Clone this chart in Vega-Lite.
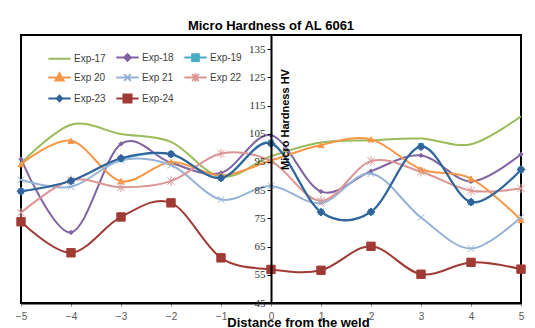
{
  "$schema": "https://vega.github.io/schema/vega-lite/v6.json",
  "width": 500,
  "height": 268,
  "autosize": {"type": "none"},
  "padding": {"left": 21, "top": 35, "right": 14, "bottom": 25},
  "background": "white",
  "title": {"text": "Micro Hardness of AL 6061", "font": "Liberation Sans", "fontSize": 13, "fontWeight": "bold", "color": "black", "offset": 2, "anchor": "middle"},
  "config": {
    "view": {"stroke": "black", "strokeWidth": 2},
    "axis": {"grid": false},
    "axisY": {"labelOverlap": false, "labelFlush": false, "labelBound": false},
    "axisX": {"labelOverlap": false, "labelFlush": false},
    "legend": {"symbolSize": 500, "symbolStrokeWidth": 2, "labelFont": "Liberation Sans", "labelFontSize": 10, "labelColor": "#404040", "labelOffset": 2, "columnPadding": 6, "rowPadding": 0, "padding": 0}
  },
  "data": {"values": [
    {"series": "Exp-17", "x": -5, "hv": 94.5}, {"series": "Exp-17", "x": -4, "hv": 108.2}, {"series": "Exp-17", "x": -3, "hv": 104.9}, {"series": "Exp-17", "x": -2, "hv": 102.1}, {"series": "Exp-17", "x": -1, "hv": 89.7}, {"series": "Exp-17", "x": 0, "hv": 97}, {"series": "Exp-17", "x": 1, "hv": 101.9}, {"series": "Exp-17", "x": 2, "hv": 102.7}, {"series": "Exp-17", "x": 3, "hv": 103.3}, {"series": "Exp-17", "x": 4, "hv": 101.3}, {"series": "Exp-17", "x": 5, "hv": 111.2},
    {"series": "Exp-18", "x": -5, "hv": 96}, {"series": "Exp-18", "x": -4, "hv": 70}, {"series": "Exp-18", "x": -3, "hv": 101.4}, {"series": "Exp-18", "x": -2, "hv": 94.7}, {"series": "Exp-18", "x": -1, "hv": 91.1}, {"series": "Exp-18", "x": 0, "hv": 104.5}, {"series": "Exp-18", "x": 1, "hv": 84.5}, {"series": "Exp-18", "x": 2, "hv": 91.7}, {"series": "Exp-18", "x": 3, "hv": 97.3}, {"series": "Exp-18", "x": 4, "hv": 88.1}, {"series": "Exp-18", "x": 5, "hv": 97.7},
    {"series": "Exp-19", "x": -5, "hv": 84.6}, {"series": "Exp-19", "x": -4, "hv": 88.3}, {"series": "Exp-19", "x": -3, "hv": 96.1}, {"series": "Exp-19", "x": -2, "hv": 97.7}, {"series": "Exp-19", "x": -1, "hv": 89.4}, {"series": "Exp-19", "x": 0, "hv": 101.8}, {"series": "Exp-19", "x": 1, "hv": 77.3}, {"series": "Exp-19", "x": 2, "hv": 77.3}, {"series": "Exp-19", "x": 3, "hv": 100.6}, {"series": "Exp-19", "x": 4, "hv": 80.7}, {"series": "Exp-19", "x": 5, "hv": 92.3},
    {"series": "Exp 20", "x": -5, "hv": 94.2}, {"series": "Exp 20", "x": -4, "hv": 102.5}, {"series": "Exp 20", "x": -3, "hv": 88.2}, {"series": "Exp 20", "x": -2, "hv": 95}, {"series": "Exp 20", "x": -1, "hv": 90.2}, {"series": "Exp 20", "x": 0, "hv": 95.5}, {"series": "Exp 20", "x": 1, "hv": 101}, {"series": "Exp 20", "x": 2, "hv": 103}, {"series": "Exp 20", "x": 3, "hv": 92.4}, {"series": "Exp 20", "x": 4, "hv": 89.1}, {"series": "Exp 20", "x": 5, "hv": 74.4},
    {"series": "Exp 21", "x": -5, "hv": 88.7}, {"series": "Exp 21", "x": -4, "hv": 86.2}, {"series": "Exp 21", "x": -3, "hv": 95.6}, {"series": "Exp 21", "x": -2, "hv": 93.9}, {"series": "Exp 21", "x": -1, "hv": 81.7}, {"series": "Exp 21", "x": 0, "hv": 86.5}, {"series": "Exp 21", "x": 1, "hv": 80.4}, {"series": "Exp 21", "x": 2, "hv": 90.9}, {"series": "Exp 21", "x": 3, "hv": 75.3}, {"series": "Exp 21", "x": 4, "hv": 64.3}, {"series": "Exp 21", "x": 5, "hv": 75.5},
    {"series": "Exp 22", "x": -5, "hv": 77}, {"series": "Exp 22", "x": -4, "hv": 88.5}, {"series": "Exp 22", "x": -3, "hv": 86}, {"series": "Exp 22", "x": -2, "hv": 88.2}, {"series": "Exp 22", "x": -1, "hv": 98}, {"series": "Exp 22", "x": 0, "hv": 95.3}, {"series": "Exp 22", "x": 1, "hv": 81.2}, {"series": "Exp 22", "x": 2, "hv": 95.3}, {"series": "Exp 22", "x": 3, "hv": 91.5}, {"series": "Exp 22", "x": 4, "hv": 84.8}, {"series": "Exp 22", "x": 5, "hv": 85.6},
    {"series": "Exp-23", "x": -5, "hv": 84.6}, {"series": "Exp-23", "x": -4, "hv": 88.3}, {"series": "Exp-23", "x": -3, "hv": 96.3}, {"series": "Exp-23", "x": -2, "hv": 97.8}, {"series": "Exp-23", "x": -1, "hv": 89.3}, {"series": "Exp-23", "x": 0, "hv": 101.5}, {"series": "Exp-23", "x": 1, "hv": 77.2}, {"series": "Exp-23", "x": 2, "hv": 77.3}, {"series": "Exp-23", "x": 3, "hv": 100.4}, {"series": "Exp-23", "x": 4, "hv": 80.8}, {"series": "Exp-23", "x": 5, "hv": 92.3},
    {"series": "Exp-24", "x": -5, "hv": 73.8}, {"series": "Exp-24", "x": -4, "hv": 62.8}, {"series": "Exp-24", "x": -3, "hv": 75.5}, {"series": "Exp-24", "x": -2, "hv": 80.5}, {"series": "Exp-24", "x": -1, "hv": 61}, {"series": "Exp-24", "x": 0, "hv": 56.9}, {"series": "Exp-24", "x": 1, "hv": 56.6}, {"series": "Exp-24", "x": 2, "hv": 65.1}, {"series": "Exp-24", "x": 3, "hv": 55.2}, {"series": "Exp-24", "x": 4, "hv": 59.4}, {"series": "Exp-24", "x": 5, "hv": 57}
  ]},
  "layer": [
    {
      "mark": {"type": "line", "interpolate": "cardinal", "tension": 0, "strokeWidth": 2},
      "encoding": {
        "x": {"field": "x", "type": "quantitative", "scale": {"domain": [-5, 5], "nice": false},
          "axis": {"values": [-5, -4, -3, -2, -1, 0, 1, 2, 3, 4, 5], "tickSize": 3, "tickColor": "#888888", "domainColor": "black", "domainWidth": 2, "labelFont": "Liberation Sans", "labelFontSize": 10, "labelColor": "#595959", "labelPadding": 5, "labelFlush": false, "labelOverlap": false, "title": "Distance from the weld", "titleFont": "Liberation Sans", "titleFontSize": 13, "titleFontWeight": "bold", "titleColor": "black", "titleX": 277, "titleY": 23, "titleAlign": "center", "titleBaseline": "alphabetic", "zindex": 1}},
        "y": {"field": "hv", "type": "quantitative", "scale": {"domain": [45, 140], "nice": false, "zero": false},
          "axis": {"values": [45, 55, 65, 75, 85, 95, 105, 115, 125, 135], "offset": -250, "tickSize": 4, "tickColor": "black", "domainColor": "black", "domainWidth": 2, "labelFont": "Liberation Serif", "labelFontSize": 11, "labelColor": "#333333", "labelPadding": 2, "labelFlush": false, "labelOverlap": false, "title": "Micro Hardness HV", "titleFont": "Liberation Sans", "titleFontSize": 11, "titleFontWeight": "bold", "titleColor": "black", "titleX": 14, "titleY": 84, "titleAngle": -90, "titleAlign": "center", "titleBaseline": "middle", "zindex": 1}},
        "color": {"field": "series", "type": "nominal",
          "scale": {"domain": ["Exp-17", "Exp-18", "Exp-19", "Exp 20", "Exp 21", "Exp 22", "Exp-23", "Exp-24"], "range": ["#9BBB59", "#8064A2", "#4BACC6", "#F79646", "#95B3D7", "#D99694", "#33629A", "#A03A35"]},
          "legend": null}
      }
    },
    {
      "transform": [{"filter": "datum.series !== 'Exp-17'"}],
      "mark": {"type": "point", "filled": true, "strokeWidth": 1, "opacity": 1},
      "encoding": {
        "x": {"field": "x", "type": "quantitative",
          "axis": {"values": [-5, -4, -3, -2, -1, 0, 1, 2, 3, 4, 5], "tickSize": 3, "tickColor": "#888888", "domainColor": "black", "domainWidth": 2, "labelFont": "Liberation Sans", "labelFontSize": 10, "labelColor": "#595959", "labelPadding": 5, "labelFlush": false, "labelOverlap": false, "title": "Distance from the weld", "titleFont": "Liberation Sans", "titleFontSize": 13, "titleFontWeight": "bold", "titleColor": "black", "titleX": 277, "titleY": 23, "titleAlign": "center", "titleBaseline": "alphabetic", "zindex": 1}},
        "y": {"field": "hv", "type": "quantitative",
          "axis": {"values": [45, 55, 65, 75, 85, 95, 105, 115, 125, 135], "offset": -250, "tickSize": 4, "tickColor": "black", "domainColor": "black", "domainWidth": 2, "labelFont": "Liberation Serif", "labelFontSize": 11, "labelColor": "#333333", "labelPadding": 2, "labelFlush": false, "labelOverlap": false, "title": "Micro Hardness HV", "titleFont": "Liberation Sans", "titleFontSize": 11, "titleFontWeight": "bold", "titleColor": "black", "titleX": 14, "titleY": 84, "titleAngle": -90, "titleAlign": "center", "titleBaseline": "middle", "zindex": 1}},
        "shape": {"field": "series", "type": "nominal",
          "scale": {"domain": ["Exp-17", "Exp-18", "Exp-19", "Exp 20", "Exp 21", "Exp 22", "Exp-23", "Exp-24"], "range": ["M0,0", "diamond", "square", "triangle-up", "M-1,-1L1,1M-1,1L1,-1", "M-1,-1L1,1M-1,1L1,-1M0,-1.3L0,1.3", "diamond", "square"]},
          "legend": null},
        "size": {"field": "series", "type": "nominal",
          "scale": {"domain": ["Exp-17", "Exp-18", "Exp-19", "Exp 20", "Exp 21", "Exp 22", "Exp-23", "Exp-24"], "range": [10, 70, 60, 80, 50, 50, 64, 110]},
          "legend": null},
        "fill": {"field": "series", "type": "nominal",
          "scale": {"domain": ["Exp-17", "Exp-18", "Exp-19", "Exp 20", "Exp 21", "Exp 22", "Exp-23", "Exp-24"], "range": ["#9BBB59", "#8064A2", "#4BACC6", "#F79646", "#95B3D7", "#D99694", "#33629A", "#A03A35"]},
          "legend": null},
        "stroke": {"field": "series", "type": "nominal",
          "scale": {"domain": ["Exp-17", "Exp-18", "Exp-19", "Exp 20", "Exp 21", "Exp 22", "Exp-23", "Exp-24"], "range": ["#9BBB59", "#8064A2", "#4BACC6", "#F79646", "#95B3D7", "#D99694", "#33629A", "#A03A35"]},
          "legend": null}
      }
    },
    {
      "transform": [{"filter": "false"}],
      "mark": {"type": "point", "filled": true, "opacity": 1},
      "encoding": {
        "x": {"field": "x", "type": "quantitative",
          "axis": {"values": [-5, -4, -3, -2, -1, 0, 1, 2, 3, 4, 5], "tickSize": 3, "tickColor": "#888888", "domainColor": "black", "domainWidth": 2, "labelFont": "Liberation Sans", "labelFontSize": 10, "labelColor": "#595959", "labelPadding": 5, "labelFlush": false, "labelOverlap": false, "title": "Distance from the weld", "titleFont": "Liberation Sans", "titleFontSize": 13, "titleFontWeight": "bold", "titleColor": "black", "titleX": 277, "titleY": 23, "titleAlign": "center", "titleBaseline": "alphabetic", "zindex": 1}},
        "y": {"field": "hv", "type": "quantitative",
          "axis": {"values": [45, 55, 65, 75, 85, 95, 105, 115, 125, 135], "offset": -250, "tickSize": 4, "tickColor": "black", "domainColor": "black", "domainWidth": 2, "labelFont": "Liberation Serif", "labelFontSize": 11, "labelColor": "#333333", "labelPadding": 2, "labelFlush": false, "labelOverlap": false, "title": "Micro Hardness HV", "titleFont": "Liberation Sans", "titleFontSize": 11, "titleFontWeight": "bold", "titleColor": "black", "titleX": 14, "titleY": 84, "titleAngle": -90, "titleAlign": "center", "titleBaseline": "middle", "zindex": 1}},
        "shape": {"field": "series", "type": "nominal",
          "scale": {"domain": ["Exp-17", "Exp-18", "Exp-19", "Exp 20", "Exp 21", "Exp 22", "Exp-23", "Exp-24"], "range": [
            "M-1,0L1,0",
            "M-1,0L1,0M-0.3,0L0,-0.3L0.3,0L0,0.3Z",
            "M-1,0L1,0M-0.3,-0.3L0.3,-0.3L0.3,0.3L-0.3,0.3Z",
            "M-1,0L1,0M0,-0.38L0.36,0.26L-0.36,0.26Z",
            "M-1,0L1,0M-0.3,-0.3L0.3,0.3M-0.3,0.3L0.3,-0.3",
            "M-1,0L1,0M-0.3,-0.3L0.3,0.3M-0.3,0.3L0.3,-0.3M0,-0.38L0,0.38",
            "M-1,0L1,0M-0.25,0L0,-0.25L0.25,0L0,0.25Z",
            "M-1,0L1,0M-0.36,-0.36L0.36,-0.36L0.36,0.36L-0.36,0.36Z"
          ]},
          "legend": {"title": null, "orient": "none", "legendX": 26, "legendY": 10, "columns": 3, "direction": "horizontal"}},
        "fill": {"field": "series", "type": "nominal",
          "scale": {"domain": ["Exp-17", "Exp-18", "Exp-19", "Exp 20", "Exp 21", "Exp 22", "Exp-23", "Exp-24"], "range": ["#9BBB59", "#8064A2", "#4BACC6", "#F79646", "#95B3D7", "#D99694", "#33629A", "#A03A35"]},
          "legend": {"title": null, "orient": "none", "legendX": 26, "legendY": 10, "columns": 3, "direction": "horizontal"}},
        "stroke": {"field": "series", "type": "nominal",
          "scale": {"domain": ["Exp-17", "Exp-18", "Exp-19", "Exp 20", "Exp 21", "Exp 22", "Exp-23", "Exp-24"], "range": ["#9BBB59", "#8064A2", "#4BACC6", "#F79646", "#95B3D7", "#D99694", "#33629A", "#A03A35"]},
          "legend": {"title": null, "orient": "none", "legendX": 26, "legendY": 10, "columns": 3, "direction": "horizontal"}}
      }
    }
  ],
  "resolve": {"scale": {"shape": "independent", "fill": "independent", "stroke": "independent"}}
}
